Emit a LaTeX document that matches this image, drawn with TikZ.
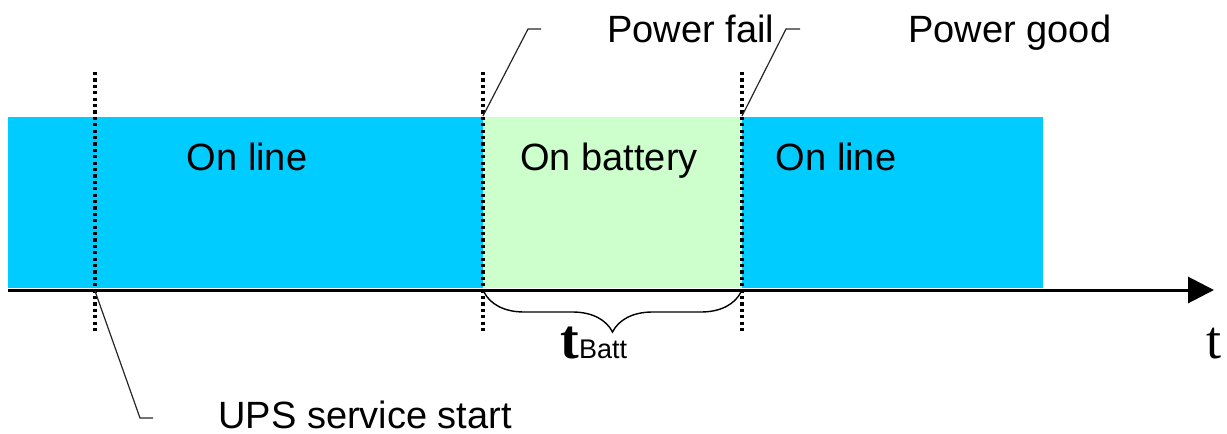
\documentclass[tikz,border=0pt]{standalone}
\usepackage{fontspec}
\setmainfont{Liberation Sans}
\newfontfamily\tnr{Liberation Serif}
\newfontfamily\tnrb{Liberation Serif Bold}
\usetikzlibrary{arrows.meta,decorations.pathreplacing}
\definecolor{online}{RGB}{0,204,255}
\definecolor{onbatt}{RGB}{204,255,204}
\begin{document}
\begin{tikzpicture}[x=0.5pt,y=-0.5pt,
  lbl/.style={inner sep=0pt,font=\fontsize{19}{21}\selectfont},
  mark line/.style={line width=1.6pt,line cap=butt,dash pattern=on 1.6pt off 1.6pt},
  callout/.style={line width=0.6pt,draw=black!85},
  axis/.style={line width=1.5pt,-{Triangle[length=13pt,width=13pt]}}]
\useasboundingbox (0,0) rectangle (1227,434);
% phases
\fill[online] (8,117) rectangle (1043,288);
\fill[onbatt] (483,117) rectangle (742,288);
% texts in phases
\node[lbl,anchor=base] (on1) at (247,170) {On line};
\node[lbl,anchor=base] (ob) at (609,170) {On battery};
\node[lbl,anchor=base] (on2) at (836,170) {On line};
% event markers
\coordinate (s0) at (95,72); \coordinate (s1) at (95,333);
\coordinate (f0) at (483,72); \coordinate (f1) at (483,333);
\coordinate (g0) at (742,72); \coordinate (g1) at (742,333);
\draw[mark line] (s0) -- (s1);
\draw[mark line] (f0) -- (f1);
\draw[mark line] (g0) -- (g1);
% time axis
\coordinate (a0) at (8,290); \coordinate (a1) at (1214,290);
\draw[axis] (a0) -- (a1);
\node[inner sep=0pt,anchor=base,font=\fontsize{27}{28}\tnr\selectfont] (t) at (1214,358) {t};
% callouts
\coordinate (pfA) at (483,116); \coordinate (pfB) at (528,29); \coordinate (pfC) at (541,29);
\draw[callout] (pfA) -- (pfB) -- (pfC);
\node[lbl,anchor=base west] (pf) at (607,42) {Power fail};
\coordinate (pgA) at (742,116); \coordinate (pgB) at (786,29); \coordinate (pgC) at (800,29);
\draw[callout] (pgA) -- (pgB) -- (pgC);
\node[lbl,anchor=base west] (pg) at (908,42) {Power good};
\coordinate (usA) at (95,291); \coordinate (usB) at (140,418); \coordinate (usC) at (153,418);
\draw[callout] (usA) -- (usB) -- (usC);
\node[lbl,anchor=base west] (us) at (218,428) {UPS service start};
% battery time brace
\coordinate (bA) at (484,292); \coordinate (bB) at (741,292);
\draw[line width=0.7pt,decorate,decoration={brace,mirror,amplitude=20pt,aspect=0.5}] (bA) -- (bB);
\node[inner sep=0pt,anchor=base west] (tb) at (560,358) {{\fontsize{28}{28}\tnrb\selectfont t}{\fontsize{13.5}{14}\selectfont Batt}};
\end{tikzpicture}
\end{document}
